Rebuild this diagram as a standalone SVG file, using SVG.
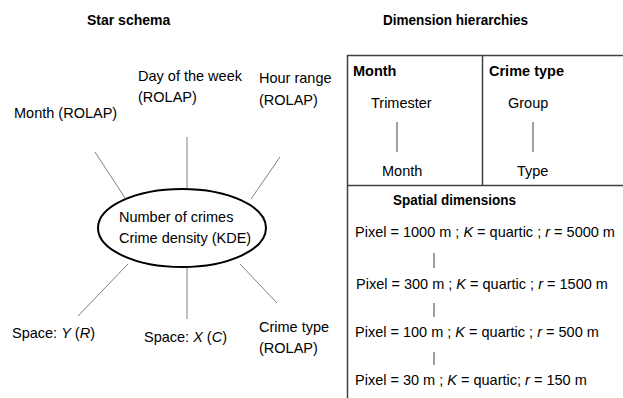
<svg xmlns="http://www.w3.org/2000/svg" width="623" height="398" viewBox="0 0 623 398">
<style>
text{font-family:"Liberation Sans",Arial,sans-serif;font-size:14.5px;fill:#000}
.b{font-weight:bold}
.h{font-weight:bold;font-size:14px}
.i{font-style:italic}
.spoke{stroke:#808080;stroke-width:1;fill:none}
.frame{stroke:#404040;stroke-width:1.5;fill:none}
.link{stroke:#404040;stroke-width:1;fill:none}
</style>
<rect width="623" height="398" fill="#fff"/>
<text class="h" x="87" y="25">Star schema</text>
<text class="h" x="383" y="25" textLength="145" lengthAdjust="spacingAndGlyphs">Dimension hierarchies</text>

<g id="connectors">
<line class="spoke" x1="95" y1="152" x2="127" y2="201"/>
<line class="spoke" x1="187" y1="137" x2="187" y2="192"/>
<line class="spoke" x1="280" y1="157" x2="251" y2="199"/>
<line class="spoke" x1="128" y1="264" x2="78" y2="316"/>
<line class="spoke" x1="187" y1="266" x2="187" y2="319"/>
<line class="spoke" x1="240" y1="264" x2="277" y2="303"/>
</g>

<g id="fact">
<ellipse cx="182" cy="228" rx="84" ry="39" fill="#fff" stroke="#000" stroke-width="2"/>
<text x="119" y="222">Number of crimes</text>
<text x="119" y="243">Crime density (KDE)</text>
</g>
<g id="dim-month"><text x="14" y="118">Month (ROLAP)</text></g>
<g id="dim-day"><text x="138" y="81">Day of the week</text><text x="138" y="102">(ROLAP)</text></g>
<g id="dim-hour"><text x="259" y="83">Hour range</text><text x="259" y="105">(ROLAP)</text></g>
<g id="dim-y"><text x="12" y="338">Space: <tspan class="i">Y</tspan> (<tspan class="i">R</tspan>)</text></g>
<g id="dim-x"><text x="144" y="342">Space: <tspan class="i">X</tspan> (<tspan class="i">C</tspan>)</text></g>
<g id="dim-crimetype"><text x="259" y="332">Crime type</text><text x="259" y="353">(ROLAP)</text></g>

<g id="hierarchies-frame">
<path class="frame" d="M623 55.5H347.5V185.5H623M482.5 55.5V185.5M347.5 185.5V398"/>
</g>
<g id="hier-month">
<text class="b" x="353" y="76">Month</text>
<text x="371" y="108">Trimester</text>
<line class="link" x1="397" y1="122" x2="397" y2="152"/>
<text x="382" y="176">Month</text>
</g>
<g id="hier-crimetype">
<text class="b" x="489" y="76">Crime type</text>
<text x="508" y="108">Group</text>
<line class="link" x1="533" y1="122" x2="533" y2="152"/>
<text x="517" y="176">Type</text>
</g>
<g id="hier-spatial">
<text class="b" x="393" y="205" textLength="123" lengthAdjust="spacingAndGlyphs">Spatial dimensions</text>
<text x="355" y="237">Pixel = 1000 m ; <tspan class="i">K</tspan> = quartic ; <tspan class="i">r</tspan> = 5000 m</text>
<line class="link" x1="434" y1="253" x2="434" y2="268"/>
<text x="356" y="289">Pixel = 300 m ; <tspan class="i">K</tspan> = quartic ; <tspan class="i">r</tspan> = 1500 m</text>
<line class="link" x1="434" y1="303" x2="434" y2="317"/>
<text x="355" y="337">Pixel = 100 m ; <tspan class="i">K</tspan> = quartic ; <tspan class="i">r</tspan> = 500 m</text>
<line class="link" x1="434" y1="352" x2="434" y2="365"/>
<text x="355" y="385">Pixel = 30 m ; <tspan class="i">K</tspan> = quartic; <tspan class="i">r</tspan> = 150 m</text>
</g>
</svg>
